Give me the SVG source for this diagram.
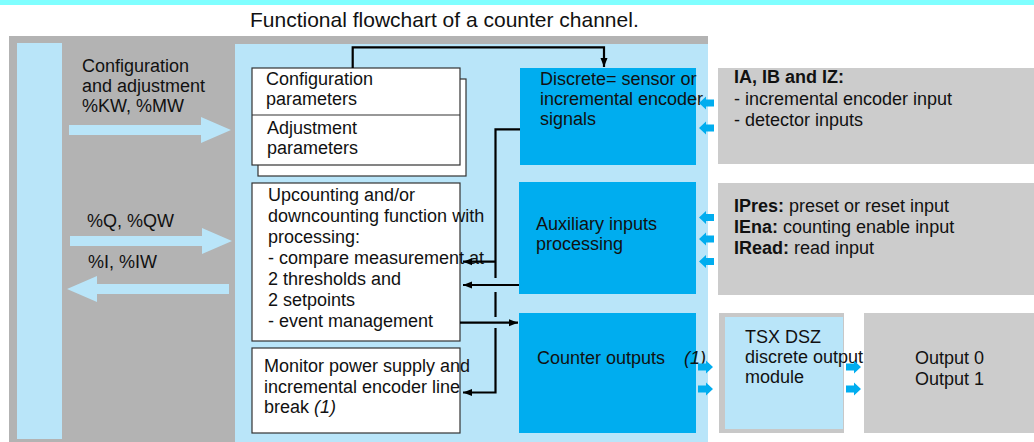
<svg xmlns="http://www.w3.org/2000/svg" width="1034" height="442" viewBox="0 0 1034 442">
<style>
text{font-family:"Liberation Sans",Arial,sans-serif;font-size:18px;fill:#111}
.title{font-size:21px}
.b{font-weight:bold}
.i{font-style:italic}
.wbox{fill:#fff;stroke:#333;stroke-width:1.2}
.bbox{fill:#00adef}
.gbox{fill:#cccccc}
.lb{fill:#b9e5f9}
.conn{fill:none;stroke:#000;stroke-width:2.2}
.sa{fill:#00adef}
</style>
<defs>
<marker id="ah" markerWidth="10" markerHeight="8" refX="9" refY="4" orient="auto" markerUnits="userSpaceOnUse">
<path d="M0,0.5 L9,4 L0,7.5 Z" fill="#000"/>
</marker>
<path id="sarrow" d="M0,0 L7,-6.5 L7,-3.5 L15,-3.5 L15,3.5 L7,3.5 L7,6.5 Z"/>
<path id="bigL" d="M0,0 L30,-13 L30,-5 L162,-5 L162,5 L30,5 L30,13 Z"/>
</defs>
<rect x="0" y="0" width="1034" height="5" fill="#80ffff"/>
<text class="title" x="250" y="27">Functional flowchart of a counter channel.</text>

<g id="frame">
<rect x="9" y="36" width="699" height="406" fill="#b3b3b3"/>
<rect class="lb" x="17" y="43" width="45" height="396"/>
<rect class="lb" x="235" y="44" width="473" height="398"/>
</g>

<g id="plc-exchanges">
<use href="#bigL" class="lb" transform="translate(231,130) scale(-1,1)"/>
<text x="82" y="72">Configuration</text>
<text x="82" y="92">and adjustment</text>
<text x="82" y="112">%KW, %MW</text>
<use href="#bigL" class="lb" transform="translate(232,241) scale(-1,1)"/>
<text x="87" y="227">%Q, %QW</text>
<use href="#bigL" class="lb" transform="translate(67,289)"/>
<text x="88" y="268">%I, %IW</text>
</g>

<g id="params">
<rect class="wbox" x="258" y="79" width="208" height="97"/>
<rect class="wbox" x="252" y="68" width="208" height="97"/>
<line x1="252" y1="115" x2="460" y2="115" stroke="#333" stroke-width="1.2"/>
<text x="266" y="85">Configuration</text>
<text x="266" y="105">parameters</text>
<text x="267" y="134">Adjustment</text>
<text x="267" y="154">parameters</text>
</g>

<g id="counting">
<rect class="wbox" x="252" y="183" width="208" height="158"/>
<text x="268" y="201">Upcounting and/or</text>
<text x="268" y="222">downcounting function with</text>
<text x="268" y="243">processing:</text>
<text x="268" y="264">- compare measurement at</text>
<text x="268" y="285">2 thresholds and</text>
<text x="268" y="306">2 setpoints</text>
<text x="268" y="327">- event management</text>
</g>

<g id="monitor">
<rect class="wbox" x="252" y="348" width="208" height="85"/>
<text x="264" y="372">Monitor power supply and</text>
<text x="264" y="393">incremental encoder line</text>
<text x="264" y="413">break <tspan class="i">(1)</tspan></text>
</g>

<g id="discrete">
<rect class="bbox" x="520" y="68" width="176" height="97"/>
<text x="540" y="85">Discrete= sensor or</text>
<text x="540" y="105">incremental encoder</text>
<text x="540" y="125">signals</text>
</g>

<g id="auxiliary">
<rect class="bbox" x="519" y="182" width="177" height="112"/>
<text x="536" y="230">Auxiliary inputs</text>
<text x="536" y="250">processing</text>
</g>

<g id="counter-outputs">
<rect class="bbox" x="519" y="313" width="177" height="120"/>
<text x="537" y="364">Counter outputs</text>
<text class="i" x="684" y="364">(1)</text>
</g>

<g id="encoder-inputs">
<rect class="gbox" x="718" y="68" width="316" height="96"/>
<text class="b" x="734" y="83">IA, IB and IZ:</text>
<text x="734" y="105">- incremental encoder input</text>
<text x="734" y="126">- detector inputs</text>
</g>

<g id="aux-inputs">
<rect class="gbox" x="718" y="183" width="316" height="112"/>
<text x="734" y="212"><tspan class="b">IPres:</tspan> preset or reset input</text>
<text x="734" y="233"><tspan class="b">IEna:</tspan> counting enable input</text>
<text x="734" y="254"><tspan class="b">IRead:</tspan> read input</text>
</g>

<g id="tsx-module">
<rect x="719" y="313" width="125" height="120" fill="#c8c8c8"/>
<rect class="lb" x="725" y="317" width="118" height="112"/>
<text x="745" y="343">TSX DSZ</text>
<text x="745" y="363">discrete output</text>
<text x="745" y="383">module</text>
</g>

<g id="outputs">
<rect class="gbox" x="864" y="313" width="170" height="120"/>
<text x="915" y="364">Output 0</text>
<text x="915" y="385">Output 1</text>
</g>

<g id="connectors">
<path class="conn" d="M352.7,68 V47.3 H604 V67" marker-end="url(#ah)"/>
<path class="conn" d="M520,129.3 H495.5 V278"/>
<path class="conn" d="M495.5,261.7 H463" marker-end="url(#ah)"/>
<path class="conn" d="M495.5,292 V317"/>
<path class="conn" d="M495.5,328 V392.5 H463" marker-end="url(#ah)"/>
<path class="conn" d="M519,285 H463" marker-end="url(#ah)"/>
<path class="conn" d="M460,322.7 H518" marker-end="url(#ah)"/>
<use href="#sarrow" class="sa" transform="translate(699,103)"/>
<use href="#sarrow" class="sa" transform="translate(699,128)"/>
<use href="#sarrow" class="sa" transform="translate(699,217.5)"/>
<use href="#sarrow" class="sa" transform="translate(699,239)"/>
<use href="#sarrow" class="sa" transform="translate(699,261.5)"/>
<use href="#sarrow" class="sa" transform="translate(713,367) scale(-1,1)"/>
<use href="#sarrow" class="sa" transform="translate(713,389) scale(-1,1)"/>
<use href="#sarrow" class="sa" transform="translate(861,367) scale(-1,1)"/>
<use href="#sarrow" class="sa" transform="translate(861,389) scale(-1,1)"/>
</g>
</svg>
